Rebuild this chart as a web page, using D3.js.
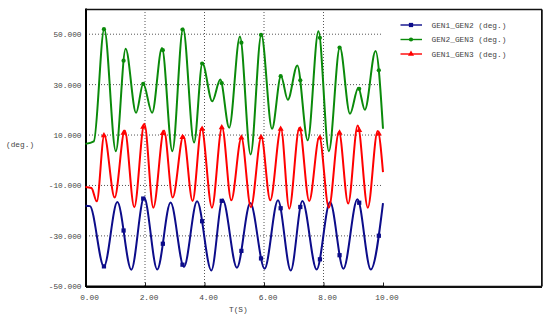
<!DOCTYPE html>
<html>
<head>
<meta charset="utf-8">
<title>GEN angles</title>
<script src="https://d3js.org/d3.v7.min.js"></script>
<style>
  body { margin: 0; background: #fff; overflow: hidden; }
  #vis { position: relative; width: 550px; height: 321px; }
  svg { display: block; }
  #box { position: absolute; left: 86px; top: 9px; width: 455px; height: 277px;
         border-top: 1.5px solid #111; border-right: 1.5px solid #111; border-bottom: 1.5px solid #111;
         pointer-events: none; }
  text { font-family: "Liberation Mono", monospace; font-size: 7.8px; fill: #444; }
</style>
</head>
<body>
<div id="vis"><div id="box"></div></div>
<script>
// [t (s), angle (deg.)]: flat start, then peaks / troughs
var gen1gen2 = [[0,-18],[0.15,-18.2],[0.62,-42.1],[1.07,-16.6],[1.54,-43.4],[1.97,-14.8],[2.41,-43.3],[2.86,-16.8],
  [3.31,-42.3],[3.75,-16.3],[4.23,-43.7],[4.61,-15.6],[5.09,-42.6],[5.54,-17],[6.02,-43],[6.47,-15.9],[6.9,-43.7],
  [7.29,-16.2],[7.77,-43.3],[8.22,-16.6],[8.67,-43],[9.14,-15.5],[9.59,-43.3],[10,-17]];
var gen2gen3 = [[0,6.5],[0.28,7.5],[0.63,52.1],[1.02,3.6],[1.35,44.2],[1.70,18.8],[1.94,30.3],[2.24,18.8],[2.57,44.5],
  [2.92,3.6],[3.28,52.3],[3.65,7],[3.93,38.5],[4.26,23.4],[4.53,32],[4.83,12.9],[5.19,49.1],[5.55,2.3],[5.91,49.8],
  [6.27,12.5],[6.57,33.4],[6.80,24],[7.12,37.6],[7.47,7.9],[7.83,51.2],[8.18,3.6],[8.55,44.8],[8.89,18.4],[9.17,28.8],
  [9.39,20],[9.75,43.3],[10,12.5]];
var gen1gen3 = [[0,-10.6],[0.2,-11],[0.38,-16.3],[0.63,9.9],[0.98,-14.8],[1.32,11.8],[1.64,-18.6],[1.98,14.5],[2.28,-18.8],
  [2.64,11.8],[2.93,-14.8],[3.29,9.6],[3.60,-16.2],[3.9,12.7],[4.25,-18.8],[4.59,13.1],[4.9,-15.9],[5.24,8.9],[5.56,-18.6],
  [5.91,9.2],[6.21,-15.9],[6.57,12.5],[6.85,-19.2],[7.19,12.9],[7.52,-16.2],[7.86,9.2],[8.18,-18.8],[8.52,11.2],
  [8.83,-17.2],[9.15,13.8],[9.49,-18.8],[9.82,11.6],[10,-4.7]];
var markerTimes = [0.62,1.28,1.94,2.60,3.26,3.92,4.58,5.24,5.90,6.56,7.22,7.88,8.54,9.20,9.86];
var xTicks = [0,2,4,6,8,10];
var yTicks = [-50,-30,-10,10,30,50];
var seriesNames = ["GEN1_GEN2 (deg.)","GEN2_GEN3 (deg.)","GEN1_GEN3 (deg.)"];

var series = [
  { name: seriesNames[0], data: gen1gen2, color: "#0c0c8a", marker: d3.symbolSquare, size: 18 },
  { name: seriesNames[1], data: gen2gen3, color: "#0a8a0a", marker: d3.symbolCircle, size: 14 },
  { name: seriesNames[2], data: gen1gen3, color: "#ff0000", marker: d3.symbolTriangle, size: 16 }
];

var W = 550, H = 321;
var frame = { left: 86, top: 9, right: 542, bottom: 287 };
var plotRight = 383;

var svg = d3.select("#vis").append("svg").attr("width", W).attr("height", H);

var x = d3.scaleLinear().domain([0, 10]).range([85.5, plotRight]);
var y = d3.scaleLinear().domain([-50, 60]).range([286.3, frame.top]);

// outer box (top / right edges)
svg.append("line").attr("x1", frame.left).attr("x2", frame.right).attr("y1", 9.5).attr("y2", 9.5)
  .attr("stroke", "#111").attr("stroke-width", 1.5);
svg.append("line").attr("x1", frame.right).attr("x2", frame.right).attr("y1", 9.5).attr("y2", 286.5)
  .attr("stroke", "#111").attr("stroke-width", 1.5);
svg.append("line").attr("x1", plotRight).attr("x2", frame.right).attr("y1", 286.5).attr("y2", 286.5)
  .attr("stroke", "#111").attr("stroke-width", 1.5);

// grid
svg.append("g").selectAll("line").data(yTicks.filter(d => d > -50)).enter().append("line")
  .attr("x1", frame.left).attr("x2", plotRight)
  .attr("y1", d => y(d)).attr("y2", d => y(d))
  .attr("stroke", "#555").attr("stroke-width", 1).attr("stroke-dasharray", "1,2");
svg.append("g").selectAll("line").data(xTicks.filter(d => d > 0 && d < 10)).enter().append("line")
  .attr("x1", d => x(d)).attr("x2", d => x(d))
  .attr("y1", frame.top).attr("y2", frame.bottom)
  .attr("stroke", "#555").attr("stroke-width", 1).attr("stroke-dasharray", "1,2");

// axes
var xAxis = svg.append("g").attr("transform", "translate(0," + 286.5 + ")")
  .call(d3.axisBottom(x).tickValues(xTicks).tickFormat(d => d.toFixed(2)).tickSize(-4).tickPadding(7.5));
xAxis.select(".domain").remove();
xAxis.selectAll("line").attr("stroke", "#222");
xAxis.selectAll("text").attr("dx", 3.5);

var yAxis = svg.append("g").attr("transform", "translate(" + frame.left + ",0)")
  .call(d3.axisLeft(y).tickValues(yTicks).tickFormat(d => d.toFixed(3)).tickSize(0).tickPadding(4.5));
yAxis.select(".domain").remove();
xAxis.attr("font-family", null).attr("font-size", null);
yAxis.attr("font-family", null).attr("font-size", null);

svg.append("line").attr("x1", frame.left).attr("x2", frame.left).attr("y1", frame.top - 0.5).attr("y2", frame.bottom)
  .attr("stroke", "#000").attr("stroke-width", 2);
svg.append("line").attr("x1", frame.left).attr("x2", plotRight + 0.5).attr("y1", 286.5).attr("y2", 286.5)
  .attr("stroke", "#000").attr("stroke-width", 2);

svg.append("text").attr("x", 6).attr("y", 147).text("(deg.)");
svg.append("text").attr("x", 229).attr("y", 312).text("T(S)");

// lines + markers (markers sit on the drawn curve)
var line = d3.line().x(d => x(d[0])).y(d => y(d[1])).curve(d3.curveMonotoneX);

function yOnPath(node, px) {
  var lo = 0, hi = node.getTotalLength();
  for (var i = 0; i < 30; i++) {
    var mid = (lo + hi) / 2;
    if (node.getPointAtLength(mid).x < px) lo = mid; else hi = mid;
  }
  return node.getPointAtLength((lo + hi) / 2).y;
}

series.forEach(function (s) {
  var p = svg.append("path").datum(s.data)
    .attr("d", line)
    .attr("fill", "none").attr("stroke", s.color).attr("stroke-width", 2)
    .attr("stroke-linejoin", "round");
  var node = p.node();
  svg.append("g").selectAll("path").data(markerTimes).enter().append("path")
    .attr("d", d3.symbol().type(s.marker).size(s.size))
    .attr("transform", d => "translate(" + x(d) + "," + yOnPath(node, x(d)) + ")")
    .attr("fill", s.color);
});

// legend
var leg = svg.append("g").selectAll("g").data(series).enter().append("g")
  .attr("transform", (d, i) => "translate(0," + (25 + i * 14.5) + ")");
leg.append("line").attr("x1", 400.5).attr("x2", 422).attr("y1", 0).attr("y2", 0)
  .attr("stroke", d => d.color).attr("stroke-width", 1.4);
leg.append("path").attr("transform", "translate(411,0)")
  .attr("d", d => d3.symbol().type(d.marker).size(d.size)())
  .attr("fill", d => d.color);
leg.append("text").attr("x", 431.5).attr("y", 2.7).text(d => d.name);
</script>
</body>
</html>
